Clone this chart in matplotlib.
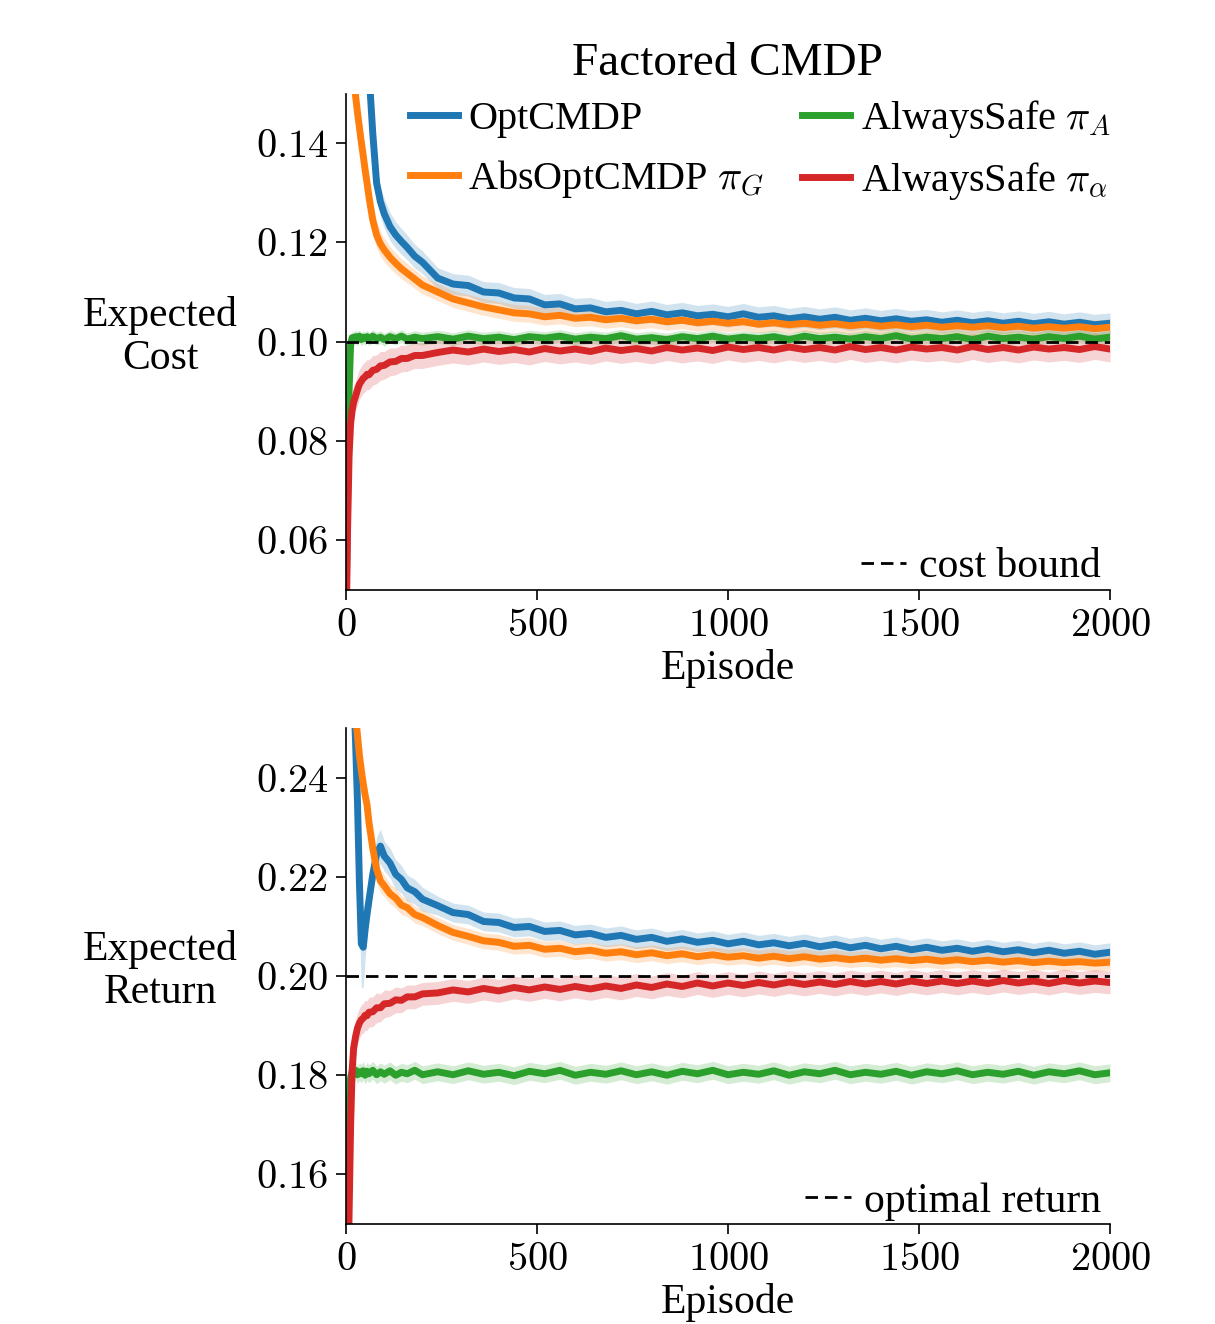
import matplotlib
matplotlib.use("Agg")
import matplotlib.pyplot as plt
from matplotlib.lines import Line2D
from matplotlib.ticker import FuncFormatter
import numpy as np

plt.rcParams["font.family"] = ["Liberation Serif", "DejaVu Serif"]
plt.rcParams["mathtext.fontset"] = "cm"

episodes = [0, 4, 8, 12, 16, 20, 25, 30, 35, 40, 45, 50, 55, 60, 70, 80, 90, 100,
            115, 130, 145, 160, 180, 200] + list(range(240, 2001, 40))

labels = ["OptCMDP", "AbsOptCMDP $\\pi_G$", "AlwaysSafe $\\pi_A$", "AlwaysSafe $\\pi_\\alpha$"]
colors = ["#1f77b4", "#ff7f0e", "#2ca02c", "#d62728"]

# ---- expected cost ----
cost_opt = [0.330, 0.300, 0.275, 0.255, 0.238, 0.222, 0.207, 0.194, 0.183, 0.174, 0.167, 0.162,
            0.158, 0.1545, 0.1420, 0.1320, 0.1282, 0.1258, 0.1232, 0.1215, 0.1202, 0.1190, 0.1172, 0.1160,
            0.1128, 0.1116, 0.1113, 0.1100, 0.1098, 0.1088, 0.1086, 0.1074, 0.1076, 0.1066,
            0.1068, 0.1060, 0.1063, 0.1056, 0.1061, 0.1054, 0.1058, 0.1052, 0.1055, 0.1050,
            0.1056, 0.1049, 0.1052, 0.1046, 0.1050, 0.1045, 0.1049, 0.1043, 0.1047, 0.1042,
            0.1046, 0.1041, 0.1044, 0.1039, 0.1043, 0.1038, 0.1042, 0.1037, 0.1041, 0.1036,
            0.1040, 0.1035, 0.1039, 0.1034, 0.1037]
cost_abs = [0.320, 0.270, 0.232, 0.204, 0.183, 0.164, 0.1495, 0.1462, 0.1432, 0.1402, 0.1375, 0.1346,
            0.1320, 0.1292, 0.1245, 0.1215, 0.1197, 0.1185, 0.1170, 0.1158, 0.1147, 0.1138, 0.1126, 0.1114,
            0.1100, 0.1086, 0.1078, 0.1070, 0.1064, 0.1058, 0.1056, 0.1050, 0.1053, 0.1047,
            0.1049, 0.1044, 0.1047, 0.1042, 0.1045, 0.1040, 0.1043, 0.1038, 0.1041, 0.1037,
            0.1040, 0.1035, 0.1038, 0.1034, 0.1037, 0.1033, 0.1036, 0.1032, 0.1035, 0.1031,
            0.1034, 0.1030, 0.1033, 0.1029, 0.1032, 0.1029, 0.1032, 0.1028, 0.1031, 0.1027,
            0.1030, 0.1027, 0.1030, 0.1026, 0.1029]
cost_safe_a = [0.045, 0.068, 0.090, 0.0995, 0.1008, 0.1005, 0.1010, 0.1006, 0.1011, 0.1004, 0.1009, 0.1006,
               0.1010, 0.1005, 0.1011, 0.1006, 0.1009, 0.1004, 0.1010, 0.1006, 0.1011, 0.1005, 0.1009, 0.1006,
               0.1010, 0.1005, 0.1011, 0.1006, 0.1009, 0.1004, 0.1010, 0.1007, 0.1011, 0.1005,
               0.1009, 0.1006, 0.1012, 0.1005, 0.1008, 0.1004, 0.1010, 0.1006, 0.1011, 0.1005,
               0.1009, 0.1006, 0.1010, 0.1004, 0.1011, 0.1006, 0.1009, 0.1005, 0.1010, 0.1006,
               0.1012, 0.1005, 0.1009, 0.1006, 0.1010, 0.1004, 0.1011, 0.1006, 0.1009, 0.1005,
               0.1010, 0.1006, 0.1011, 0.1005, 0.1009]
cost_safe_alpha = [0.040, 0.062, 0.077, 0.0835, 0.0862, 0.0878, 0.0890, 0.0903, 0.0914, 0.0920, 0.0926, 0.0929,
                   0.0934, 0.0933, 0.0942, 0.0944, 0.0951, 0.0952, 0.0959, 0.0960, 0.0966, 0.0966, 0.0972, 0.0972,
                   0.0978, 0.0983, 0.0979, 0.0985, 0.0980, 0.0984, 0.0979, 0.0986, 0.0981, 0.0985,
                   0.0980, 0.0987, 0.0982, 0.0986, 0.0981, 0.0988, 0.0983, 0.0987, 0.0982, 0.0989,
                   0.0984, 0.0988, 0.0983, 0.0989, 0.0984, 0.0988, 0.0983, 0.0990, 0.0984, 0.0988,
                   0.0983, 0.0989, 0.0985, 0.0988, 0.0983, 0.0990, 0.0984, 0.0988, 0.0983, 0.0989,
                   0.0985, 0.0988, 0.0984, 0.0990, 0.0985]
cost_spread = [
    [0.006, 0.006, 0.006, 0.006, 0.006, 0.006, 0.005, 0.005, 0.005, 0.005, 0.005, 0.005,
     0.004, 0.004, 0.0035, 0.003, 0.003, 0.003, 0.0028, 0.0027, 0.0026, 0.0025, 0.0024, 0.0023] + [0.0021] * 45,
    [0.005, 0.005, 0.005, 0.005, 0.005, 0.004, 0.004, 0.004, 0.0035, 0.0035, 0.003, 0.003,
     0.003, 0.003, 0.0028, 0.0026, 0.0025, 0.0024, 0.0022, 0.0021, 0.002, 0.002, 0.0019, 0.0018] + [0.0017] * 45,
    [0.004, 0.004, 0.003, 0.0015, 0.0014, 0.0014, 0.0014, 0.0014, 0.0013, 0.0013, 0.0013, 0.0013,
     0.0013, 0.0013, 0.0013, 0.0013, 0.0013, 0.0013, 0.0013, 0.0013, 0.0013, 0.0013, 0.0013, 0.0013] + [0.0013] * 45,
    [0.004, 0.004, 0.004, 0.004, 0.0035, 0.0035, 0.003, 0.003, 0.003, 0.003, 0.003, 0.003,
     0.003, 0.003, 0.003, 0.0029, 0.0029, 0.0028, 0.0028, 0.0027, 0.0027, 0.0026, 0.0026, 0.0026] + [0.0026] * 45,
]

# ---- expected return ----
ret_opt = [0.340, 0.320, 0.300, 0.285, 0.270, 0.258, 0.247, 0.235, 0.219, 0.2065, 0.2058, 0.2095,
           0.2125, 0.2152, 0.2205, 0.2245, 0.2262, 0.2242, 0.2228, 0.2205, 0.2195, 0.2178, 0.2170, 0.2155,
           0.2142, 0.2128, 0.2124, 0.2110, 0.2108, 0.2098, 0.2100, 0.2090, 0.2092, 0.2083,
           0.2086, 0.2078, 0.2082, 0.2074, 0.2078, 0.2070, 0.2075, 0.2068, 0.2072, 0.2065,
           0.2070, 0.2063, 0.2067, 0.2061, 0.2066, 0.2059, 0.2064, 0.2057, 0.2062, 0.2055,
           0.2060, 0.2053, 0.2058, 0.2052, 0.2056, 0.2050, 0.2055, 0.2049, 0.2053, 0.2047,
           0.2052, 0.2046, 0.2050, 0.2044, 0.2048]
ret_abs = [0.330, 0.310, 0.295, 0.280, 0.268, 0.260, 0.2525, 0.2485, 0.2445, 0.2415, 0.2388, 0.2365,
           0.2345, 0.2310, 0.2258, 0.2215, 0.2192, 0.2182, 0.2166, 0.2157, 0.2143, 0.2138, 0.2124, 0.2118,
           0.2102, 0.2088, 0.2080, 0.2071, 0.2068, 0.2060, 0.2062, 0.2054, 0.2056, 0.2049,
           0.2052, 0.2046, 0.2049, 0.2043, 0.2047, 0.2041, 0.2045, 0.2039, 0.2043, 0.2038,
           0.2041, 0.2036, 0.2040, 0.2035, 0.2039, 0.2034, 0.2037, 0.2033, 0.2036, 0.2032,
           0.2035, 0.2031, 0.2034, 0.2030, 0.2033, 0.2029, 0.2032, 0.2028, 0.2031, 0.2027,
           0.2030, 0.2027, 0.2029, 0.2026, 0.2028]
ret_safe_a = [0.145, 0.160, 0.174, 0.1795, 0.1808, 0.1802, 0.1810, 0.1801, 0.1807, 0.1803, 0.1809, 0.1800,
              0.1808, 0.1803, 0.1810, 0.1801, 0.1807, 0.1802, 0.1809, 0.1800, 0.1806, 0.1803, 0.1810, 0.1801,
              0.1807, 0.1801, 0.1809, 0.1802, 0.1806, 0.1799, 0.1808, 0.1803, 0.1810, 0.1800,
              0.1806, 0.1802, 0.1809, 0.1801, 0.1807, 0.1800, 0.1808, 0.1803, 0.1810, 0.1801,
              0.1806, 0.1802, 0.1809, 0.1800, 0.1807, 0.1803, 0.1810, 0.1801, 0.1806, 0.1802,
              0.1808, 0.1800, 0.1807, 0.1803, 0.1809, 0.1801, 0.1806, 0.1802, 0.1808, 0.1800,
              0.1807, 0.1803, 0.1809, 0.1801, 0.1805]
ret_safe_alpha = [0.120, 0.135, 0.152, 0.170, 0.1810, 0.1855, 0.1878, 0.1895, 0.1905, 0.1912, 0.1915, 0.1921,
                  0.1920, 0.1927, 0.1928, 0.1936, 0.1936, 0.1944, 0.1945, 0.1952, 0.1951, 0.1958, 0.1958, 0.1964,
                  0.1966, 0.1972, 0.1968, 0.1975, 0.1970, 0.1977, 0.1972, 0.1978, 0.1973, 0.1979,
                  0.1974, 0.1980, 0.1975, 0.1982, 0.1977, 0.1984, 0.1979, 0.1986, 0.1980, 0.1986,
                  0.1981, 0.1987, 0.1982, 0.1988, 0.1983, 0.1988, 0.1983, 0.1989, 0.1984, 0.1989,
                  0.1984, 0.1990, 0.1985, 0.1990, 0.1985, 0.1990, 0.1985, 0.1991, 0.1986, 0.1990,
                  0.1985, 0.1991, 0.1986, 0.1990, 0.1987]
ret_spread = [
    [0.004, 0.004, 0.004, 0.004, 0.004, 0.004, 0.005, 0.006, 0.008, 0.009, 0.008, 0.006,
     0.005, 0.004, 0.0035, 0.0035, 0.0035, 0.003, 0.003, 0.003, 0.0028, 0.0026, 0.0025, 0.0024] + [0.0019] * 45,
    [0.003, 0.003, 0.003, 0.003, 0.003, 0.003, 0.003, 0.003, 0.003, 0.003, 0.003, 0.003,
     0.003, 0.003, 0.0028, 0.0026, 0.0024, 0.0022, 0.002, 0.002, 0.0019, 0.0018, 0.0017, 0.0016] + [0.0016] * 45,
    [0.003, 0.003, 0.002, 0.0018, 0.0018, 0.0018, 0.0018, 0.0018, 0.0018, 0.0018, 0.0018, 0.0018,
     0.0018, 0.0018, 0.0018, 0.0018, 0.0018, 0.0018, 0.0018, 0.0018, 0.0018, 0.0018, 0.0018, 0.0018] + [0.0018] * 45,
    [0.004, 0.004, 0.004, 0.004, 0.004, 0.0035, 0.0035, 0.003, 0.003, 0.003, 0.003, 0.003,
     0.003, 0.003, 0.003, 0.003, 0.0028, 0.0028, 0.0026, 0.0026, 0.0025, 0.0024, 0.0024, 0.0023] + [0.0023] * 45,
]

cost_bound = 0.10
optimal_return = 0.20

fs = 29
fig = plt.figure(figsize=(12.15, 13.24), dpi=100)
ax_cost = fig.add_axes([0.2848, 0.5547, 0.6288, 0.3746])
ax_ret = fig.add_axes([0.2848, 0.0755, 0.6288, 0.3746])

math_fmt = FuncFormatter(lambda v, pos: "$%.2f$" % v)
int_fmt = FuncFormatter(lambda v, pos: "$%d$" % v)


def draw(ax, series, spreads, ref, ref_label, ylim, yticks, ylabel):
    x = np.array(episodes)
    for vals, sp, c in zip(series, spreads, colors):
        vals = np.array(vals)
        sp = np.array(sp)
        ax.fill_between(x, vals - sp, vals + sp, color=c, alpha=0.2, lw=0)
    for vals, c in zip(series, colors):
        ax.plot(x, vals, color=c, lw=5)
    ref_line, = ax.plot([0, 2000], [ref, ref], color="black", lw=2, dashes=(4.5, 2.5), label=ref_label)
    ax.set_xlim(0, 2000)
    ax.set_ylim(*ylim)
    ax.set_yticks(yticks)
    ax.set_xticks([0, 500, 1000, 1500, 2000])
    ax.yaxis.set_major_formatter(math_fmt)
    ax.xaxis.set_major_formatter(int_fmt)
    ax.tick_params(labelsize=29, length=7, width=1.2, pad=6)
    for s in ["top", "right"]:
        ax.spines[s].set_visible(False)
    for s in ["left", "bottom"]:
        ax.spines[s].set_linewidth(1.2)
    ax.set_xlabel("Episode", fontsize=fs + 1, labelpad=3)
    ax.set_ylabel(ylabel, fontsize=fs + 1, rotation=0, ha="center", va="center", linespacing=1.15)
    ax.yaxis.set_label_coords(-0.2435, 0.51)
    leg = ax.legend(handles=[ref_line], loc="lower right", bbox_to_anchor=(1.015, -0.035),
                    frameon=False, fontsize=fs + 1, handlelength=1.1, handletextpad=0.3,
                    borderaxespad=0.1)
    return leg


leg1 = draw(ax_cost, [cost_opt, cost_abs, cost_safe_a, cost_safe_alpha], cost_spread,
            cost_bound, "cost bound", (0.05, 0.15), [0.06, 0.08, 0.10, 0.12, 0.14], "Expected\nCost")
draw(ax_ret, [ret_opt, ret_abs, ret_safe_a, ret_safe_alpha], ret_spread,
     optimal_return, "optimal return", (0.15, 0.25), [0.16, 0.18, 0.20, 0.22, 0.24], "Expected\nReturn")

handles = [Line2D([], [], color=c, lw=5) for c in colors]
ax_cost.add_artist(leg1)
ax_cost.legend(handles, labels, loc="upper center", bbox_to_anchor=(0.542, 1.065), ncol=2,
               frameon=False, fontsize=fs, handlelength=1.2, handletextpad=0.25,
               columnspacing=0.95, labelspacing=0.5)

fig.text(0.599, 0.952, "Factored CMDP", fontsize=34, ha="center", va="center")

fig.savefig("out.png", dpi=100)
